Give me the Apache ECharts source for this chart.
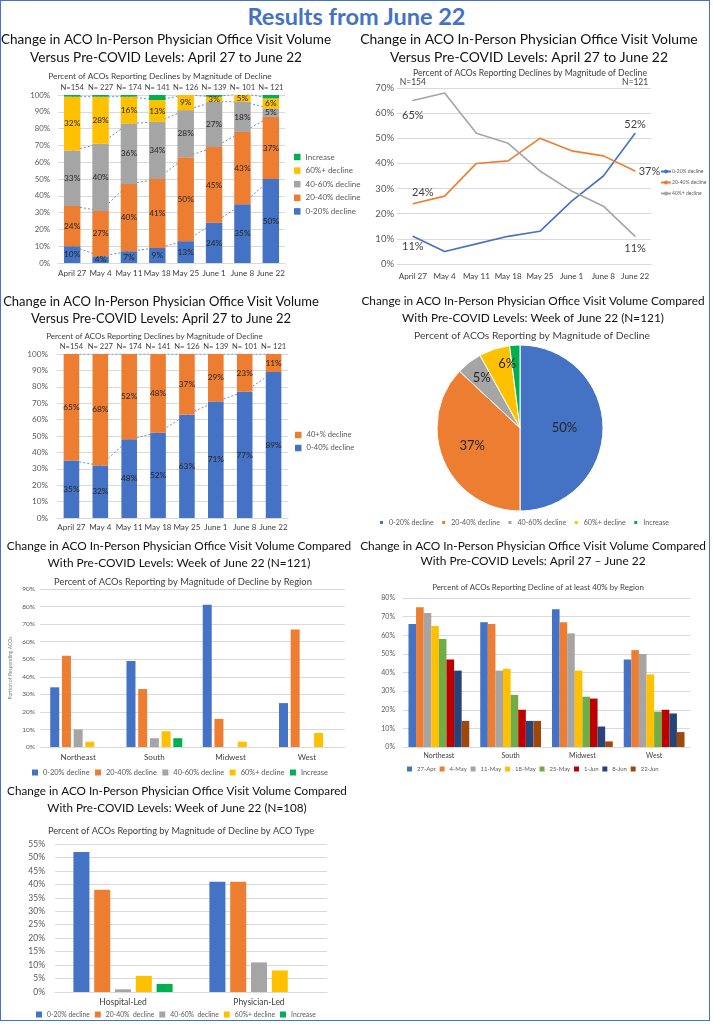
<!DOCTYPE html>
<html><head><meta charset="utf-8">
<script src="https://cdn.jsdelivr.net/npm/echarts@6/dist/echarts.min.js"></script>
<style>
html,body{margin:0;padding:0;background:#fff;}
#page{position:relative;width:713px;height:1024px;overflow:hidden;background:#fff;}
#frame{position:absolute;left:0;top:0;width:708px;height:1019px;border:1.5px solid #4472C4;}
#head{position:absolute;left:0;top:1px;width:713px;text-align:center;font-family:Lato,sans-serif;font-weight:bold;font-size:23.5px;color:#4472C4;line-height:30px;}
.c{position:absolute;left:0;top:0;width:713px;height:1024px;}
</style></head>
<body><div id="page">
<div id="frame"></div>
<div id="head">Results from June 22</div>
<div class="c" id="c1"></div><div class="c" id="c2"></div><div class="c" id="c3"></div>
<div class="c" id="c4"></div><div class="c" id="c5"></div><div class="c" id="c6"></div><div class="c" id="c7"></div>
</div>
<script>
// ---------- DATA ----------
const weeks = ['April 27','May 4','May 11','May 18','May 25','June 1','June 8','June 22'];
const nLabels = ['N=154','N= 227','N= 174','N= 141','N= 126','N= 139','N= 101','N= 121'];
const nEnds = ['N=154','','','','','','','N=121'];
const declineNames = ['0-20% decline','20-40% decline','40-60% decline','60%+ decline','Increase'];
const dec0_20 = [10,4,7,9,13,24,35,50];
const dec20_40 = [24,27,40,41,50,45,43,37];
const dec40_60 = [33,40,36,34,28,27,18,5];
const dec60p = [32,28,16,13,9,3,5,6];
const increase = [1,1,1,3,0,1,0,2];

const lineNames = ['0-20% decline','20-40% decline','40%+ decline'];
const line0_20 = [11,5,8,11,13,25,35,52];
const line20_40 = [24,27,40,41,50,45,43,37];
const line40p = [65,68,52,48,37,29,23,11];

const twoNames = ['0-40% decline','40+% decline'];
const dec0_40 = [35,32,48,52,63,71,77,89];
const dec40p = [65,68,52,48,37,29,23,11];

const pieValues = [50,37,5,6,2];

const regions = ['Northeast','South','Midwest','West'];
const reg0_20 = [34,49,81,25];
const reg20_40 = [52,33,16,67];
const reg40_60 = [10,5,0,0];
const reg60p = [3,9,3,8];
const regInc = [0,5,0,0];

const weekKeys = ['27-Apr','4-May','11-May','18-May','25-May','1-Jun','8-Jun','22-Jun'];
const neVals = [66,75,72,65,58,47,41,14];
const soVals = [67,66,41,42,28,20,14,14];
const mwVals = [74,67,61,41,27,26,11,3];
const weVals = [47,52,50,39,19,20,18,8];

const acoTypes = ['Hospital-Led','Physician-Led'];
const typeNames = ['0-20% decline','20-40%  decline','40-60%  decline','60%+ decline','Increase'];
const hospVals = [52,38,1,6,3];
const physVals = [41,41,11,8,0];

// ---------- STYLE ----------
const FONT = 'Lato, sans-serif';
const BLUE='#4472C4', ORANGE='#ED7D31', GRAY='#A5A5A5', YELLOW='#FFC000', GREEN='#00B050';
const colors5 = [BLUE, ORANGE, GRAY, YELLOW, GREEN];
const colors8 = ['#4472C4','#ED7D31','#A5A5A5','#FFC000','#70AD47','#C00000','#264478','#9E480E'];
const TXT = '#404040', GRID = '#d9d9d9';

function mk(id){ return echarts.init(document.getElementById(id), null, {renderer:'canvas', width:713, height:1024}); }
function titles(text, cx, top, lh, fs, sub, scx, sTop, sfs){
  return [
    {text:text, left:cx, top:top, textAlign:'center', padding:0,
     textStyle:{fontFamily:FONT, fontSize:fs, fontWeight:'normal', color:'#111', lineHeight:lh}},
    {text:sub, left:scx, top:sTop, textAlign:'center', padding:0,
     textStyle:{fontFamily:FONT, fontSize:sfs, fontWeight:'normal', color:TXT, lineHeight:sfs+2}}
  ];
}
function yAx(max, interval, fs, margin, extra){
  return Object.assign({type:'value', min:0, max:max, interval:interval,
    axisLabel:{formatter:'{value}%', fontSize:fs, color:'#595959', fontFamily:FONT, margin:margin},
    splitLine:{lineStyle:{color:GRID, width:1}}, axisLine:{show:false}, axisTick:{show:false}}, extra||{});
}
function xAx(data, fs, margin, extra){
  return Object.assign({type:'category', data:data, axisTick:{show:false},
    axisLine:{lineStyle:{color:GRID}},
    axisLabel:{fontSize:fs, color:TXT, fontFamily:FONT, margin:margin, interval:0}}, extra||{});
}
function legend(names, fs, opt){
  return Object.assign({data:names, icon:'rect', itemWidth:6, itemHeight:6, padding:0,
    textStyle:{fontFamily:FONT, fontSize:fs, color:'#595959'}}, opt);
}
const barLabel = {show:true, position:'inside', formatter:'{c}%', fontSize:8.3, color:'#262626', fontFamily:FONT};

// ---------- CHART 1: stacked 5 categories ----------
(function(){
  const stacks = [dec0_20, dec20_40, dec40_60, dec60p, increase];
  const ch = mk('c1');
  ch.setOption({
    animation:false,
    title: titles('Change in ACO In-Person Physician Office Visit Volume\nVersus Pre-COVID Levels: April 27 to June 22', 166, 31, 17.5, 13.6,
      'Percent of ACOs Reporting Declines by Magnitude of Decline', 160, 70.8, 8.3),
    grid:{left:58, top:95, width:227, height:168},
    legend: legend(declineNames.slice().reverse(), 8, {orient:'vertical', left:294, top:153, itemGap:5.6, itemWidth:6.5, itemHeight:6.5}),
    xAxis:[xAx(weeks, 8.1, 6), xAx(nLabels, 7.6, 3, {position:'top', axisLine:{show:false}})],
    yAxis: yAx(100, 10, 7.8, 8),
    series: stacks.map((d,i)=>({type:'bar', name:declineNames[i], stack:'b', data:d, barWidth:'58%', z:3,
        itemStyle:{color:colors5[i]}, label:Object.assign({}, barLabel, {show:i<4})}))
      .concat(stacks.slice(0,4).map((d,i)=>({type:'line', name:'series-line-'+i, stack:'l', data:d, symbol:'none', z:1, silent:true,
        lineStyle:{color:BLUE, width:0.8, type:[2,2]}})))
  });
})();

// ---------- CHART 2: line ----------
(function(){
  function lbl(arr, spec){
    return arr.map((v,i)=> spec[i] ? {value:v, symbol:'circle', symbolSize:1,
      label:Object.assign({show:true, formatter:'{c}%', fontSize:11, color:TXT, fontFamily:FONT}, spec[i])} : v);
  }
  const ch = mk('c2');
  ch.setOption({
    animation:false,
    title: titles('Change in ACO In-Person Physician Office Visit Volume\nVersus Pre-COVID Levels: April 27 to June 22', 529, 31, 18, 13.9,
      'Percent of ACOs Reporting Declines by Magnitude of Decline', 530, 68, 8.7),
    grid:{left:397, top:88, width:254, height:176},
    legend:{data:lineNames, orient:'vertical', left:660, top:169, itemGap:6, itemWidth:10, itemHeight:5, padding:0,
      textStyle:{fontFamily:FONT, fontSize:5, color:'#595959', padding:[0,0,0,-4]}},
    xAxis:[xAx(weeks, 8.1, 8), xAx(nEnds, 8.5, 1, {position:'top', axisLine:{show:false}})],
    yAxis: yAx(70, 10, 9.5, 3),
    series:[
      {type:'line', name:lineNames[0], data:lbl(line0_20, {0:{position:'bottom', distance:4}, 7:{position:'top', distance:3}}),
        symbol:'none', lineStyle:{color:BLUE, width:1.6}, itemStyle:{color:BLUE}},
      {type:'line', name:lineNames[1], data:lbl(line20_40, {0:{position:'top', distance:5, offset:[10,0]}, 7:{position:'right', distance:3}}),
        symbol:'none', lineStyle:{color:ORANGE, width:1.6}, itemStyle:{color:ORANGE}},
      {type:'line', name:lineNames[2], data:lbl(line40p, {0:{position:'bottom', distance:9}, 7:{position:'bottom', distance:6}}),
        symbol:'none', lineStyle:{color:GRAY, width:1.6}, itemStyle:{color:GRAY}}
    ]
  });
})();

// ---------- CHART 3: stacked 2 categories ----------
(function(){
  const stacks = [dec0_40, dec40p];
  const cols = [BLUE, ORANGE];
  const ch = mk('c3');
  ch.setOption({
    animation:false,
    title: titles('Change in ACO In-Person Physician Office Visit Volume\nVersus Pre-COVID Levels: April 27 to June 22', 161, 293, 17.3, 13,
      'Percent of ACOs Reporting Declines by Magnitude of Decline', 154.5, 331, 8.05),
    grid:{left:57, top:354, width:231, height:164},
    legend: legend(twoNames.slice().reverse(), 7.6, {orient:'vertical', left:295, top:431, itemGap:5, itemWidth:6.5, itemHeight:6.5}),
    xAxis:[xAx(weeks, 8.1, 5.5), xAx(nLabels, 7.6, 3, {position:'top', axisLine:{show:false}})],
    yAxis: yAx(100, 10, 8.2, 9),
    series: stacks.map((d,i)=>({type:'bar', name:twoNames[i], stack:'b', data:d, barWidth:'54%', z:3,
        itemStyle:{color:cols[i]}, label:barLabel}))
      .concat(stacks.map((d,i)=>({type:'line', name:'series-line-'+i, stack:'l', data:d, symbol:'none', z:1, silent:true,
        lineStyle:{color:BLUE, width:0.8, type:[2,2]}})))
  });
})();

// ---------- CHART 4: pie ----------
(function(){
  const shift = {1:[-7,0], 2:[-11,-15], 3:[1,-22]};
  const ch = mk('c4');
  ch.setOption({
    animation:false,
    title: titles('Change in ACO In-Person Physician Office Visit Volume Compared\nWith Pre-COVID Levels: Week of June 22 (N=121)', 533, 293.3, 16.7, 11.8,
      'Percent of ACOs Reporting by Magnitude of Decline', 532, 329.8, 10.3),
    legend: legend(declineNames, 7.1, {orient:'horizontal', left:378, top:519, itemGap:6.5, itemWidth:5, itemHeight:5}),
    series:[{type:'pie', center:[520,428], radius:83, startAngle:90, clockwise:true,
      itemStyle:{borderColor:'#fff', borderWidth:1},
      label:{show:true, position:'inside', formatter:'{c}%', fontSize:13, color:'#262626', fontFamily:FONT},
      labelLine:{show:false},
      labelLayout:function(p){ const s = shift[p.dataIndex]; return s ? {dx:s[0], dy:s[1]} : {}; },
      data: pieValues.map((v,i)=>({name:declineNames[i], value:v, itemStyle:{color:colors5[i]}, label:{show:i<4}}))
    }]
  });
})();

// ---------- CHART 5: region grouped ----------
(function(){
  const groups = [reg0_20, reg20_40, reg40_60, reg60p, regInc];
  const ch = mk('c5');
  ch.setOption({
    animation:false,
    title: titles('Change in ACO In-Person Physician Office Visit Volume Compared\nWith Pre-COVID Levels: Week of June 22 (N=121)', 179, 538.3, 16.7, 11.85,
      'Percent of ACOs Reporting by Magnitude of Decline by Region', 183, 576.5, 9.4),
    grid:{left:40, top:589, width:305, height:158},
    legend: legend(declineNames, 7.4, {orient:'horizontal', left:32, top:769, itemGap:5.5}),
    xAxis: xAx(regions, 8, 6),
    yAxis: yAx(90, 10, 6.5, 5, {name:'Portion of Responding ACOs', nameLocation:'middle', nameGap:27,
      nameTextStyle:{fontSize:5, color:'#808080', fontFamily:FONT}}),
    series: groups.map((d,i)=>({type:'bar', name:declineNames[i], data:d, barWidth:9, barGap:'30%', itemStyle:{color:colors5[i]}}))
  });
})();

// ---------- CHART 6: 40%+ by region over weeks ----------
(function(){
  const ch = mk('c6');
  ch.setOption({
    animation:false,
    title: titles('Change in ACO In-Person Physician Office Visit Volume Compared\nWith Pre-COVID Levels: April 27 \u2013 June 22', 533, 538, 15.7, 11.9,
      'Percent of ACOs Reporting Decline of at least 40% by Region', 538, 582.5, 7.9),
    grid:{left:403, top:598, width:287, height:149},
    legend: legend(weekKeys, 6, {orient:'horizontal', left:407, top:766, itemGap:3.8, itemWidth:5, itemHeight:5}),
    xAxis: xAx(regions, 7, 5.5),
    yAxis: yAx(80, 10, 7, 8),
    series: weekKeys.map((k,i)=>({type:'bar', name:k, data:[neVals[i], soVals[i], mwVals[i], weVals[i]],
      barWidth:7.6, barGap:'0%', itemStyle:{color:colors8[i]}}))
  });
})();

// ---------- CHART 7: by ACO type ----------
(function(){
  const ch = mk('c7');
  ch.setOption({
    animation:false,
    title: titles('Change in ACO In-Person Physician Office Visit Volume Compared\nWith Pre-COVID Levels: Week of June 22 (N=108)', 177, 783.3, 16.7, 11.7,
      'Percent of ACOs Reporting by Magnitude of Decline by ACO Type', 181, 825.5, 9.2),
    grid:{left:55, top:844, width:272, height:148},
    legend: legend(typeNames, 6.8, {orient:'horizontal', left:36, top:1011, itemGap:5}),
    xAxis: xAx(acoTypes, 8.5, 5.5),
    yAxis: yAx(55, 5, 8.5, 10),
    series: typeNames.map((n,i)=>({type:'bar', name:n, data:[hospVals[i], physVals[i]], barWidth:16, barGap:'30%', itemStyle:{color:colors5[i]}}))
  });
})();
</script>
</body></html>
